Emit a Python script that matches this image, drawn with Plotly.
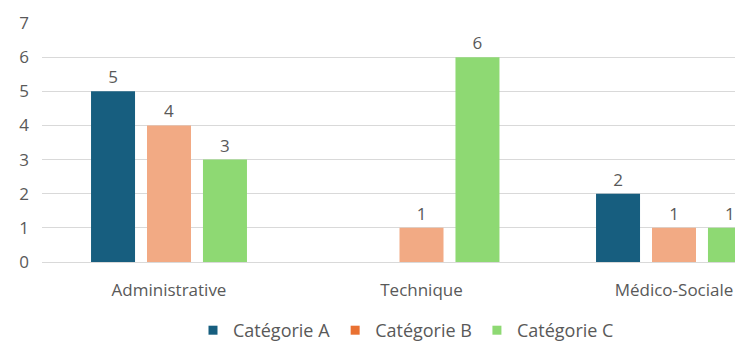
import plotly.graph_objects as go

categories = ["Administrative", "Technique", "Médico-Sociale"]
series_names = ["Catégorie A", "Catégorie B", "Catégorie C"]
values_a = [5, None, 2]
values_b = [4, 1, 1]
values_c = [3, 6, 1]
bar_colors = ["#175E7F", "#F2AA84", "#8ED973"]
legend_colors = ["#175E7F", "#E97132", "#8ED973"]
y_ticks = [0, 1, 2, 3, 4, 5, 6, 7]

FONT = "Open Sans"
TXT = "#595959"

# page has an 8px body margin, so figure coords = page coords - 8
W, H = 735, 334
L, T, B = 34, 15, 80
plot_w = W - L
unit = 252.5
x0 = -(169 - 42) / unit

fig = go.Figure()
for name, vals, col in zip(series_names, [values_a, values_b, values_c], bar_colors):
    fig.add_trace(go.Bar(
        x=categories, y=vals, name=name, marker_color=col, marker_line_width=0,
        text=[("" if v is None else str(v)) for v in vals],
        textposition="outside", cliponaxis=False,
        textfont=dict(family=FONT, size=17, color=TXT),
        showlegend=False,
    ))
for name, col in zip(series_names, legend_colors):
    fig.add_trace(go.Scatter(
        x=[None], y=[None], mode="markers", name=name,
        marker=dict(symbol="square", size=9, color=col),
    ))

fig.update_layout(
    width=W, height=H,
    margin=dict(l=L, r=0, t=T, b=B, autoexpand=False),
    paper_bgcolor="white", plot_bgcolor="white",
    barmode="group", bargap=0.335, bargroupgap=0.214,
    font=dict(family=FONT, size=17, color=TXT),
    legend=dict(orientation="h", x=(406 - 8 - L) / plot_w, xanchor="center",
                y=-68.5 / (H - T - B), yanchor="middle",
                font=dict(family=FONT, size=18, color=TXT), itemwidth=30,
                traceorder="normal"),
)
fig.update_xaxes(range=[x0, x0 + plot_w / unit], showgrid=False, showline=False, zeroline=False,
                 ticks="", ticklabelstandoff=16, tickfont=dict(family=FONT, size=17, color=TXT))
fig.update_yaxes(range=[0, 7], tickvals=y_ticks, showgrid=True, gridcolor="#D9D9D9", gridwidth=1,
                 zeroline=True, zerolinecolor="#D9D9D9", zerolinewidth=1, showline=False,
                 ticks="", ticklabelstandoff=12, tickfont=dict(family=FONT, size=17, color=TXT))

fig.write_html("out.html")
